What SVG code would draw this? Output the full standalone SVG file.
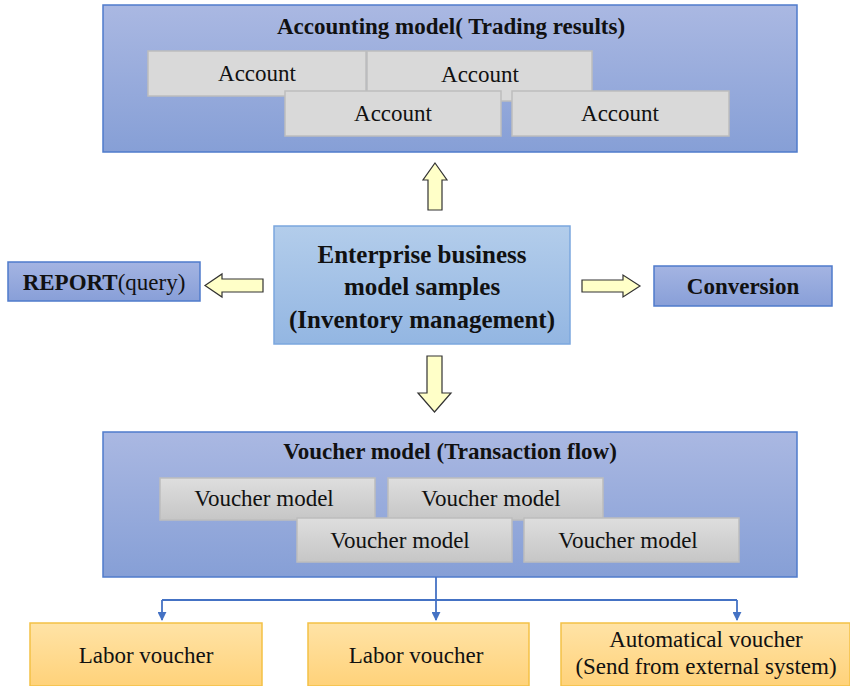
<svg xmlns="http://www.w3.org/2000/svg" width="850" height="686" viewBox="0 0 850 686">
<defs>
<linearGradient id="gOuter" x1="0" y1="0" x2="0" y2="1"><stop offset="0" stop-color="#AAB8E2"/><stop offset="1" stop-color="#869FD6"/></linearGradient>
<linearGradient id="gCenter" x1="0" y1="0" x2="0" y2="1"><stop offset="0" stop-color="#B3CDEB"/><stop offset="1" stop-color="#93B6E2"/></linearGradient>
<linearGradient id="gSide" x1="0" y1="0" x2="0" y2="1"><stop offset="0" stop-color="#A4B4E2"/><stop offset="1" stop-color="#889FD8"/></linearGradient>
<linearGradient id="gGray" x1="0" y1="0" x2="0" y2="1"><stop offset="0" stop-color="#DEDEDE"/><stop offset="1" stop-color="#C6C6C6"/></linearGradient>
<linearGradient id="gOrange" x1="0" y1="0" x2="0" y2="1"><stop offset="0" stop-color="#FFE3A6"/><stop offset="1" stop-color="#FFD27A"/></linearGradient>
<marker id="ah" viewBox="0 0 10 10" refX="9" refY="5" markerWidth="5" markerHeight="5" orient="auto"><path d="M0,0 L10,5 L0,10 z" fill="#4472C4"/></marker>
</defs>
<style>
.outer{fill:url(#gOuter);stroke:#4F7BCB;stroke-width:1.5}
.center{fill:url(#gCenter);stroke:#7BA7DE;stroke-width:1.5}
.side{fill:url(#gSide);stroke:#4F7BCB;stroke-width:1.5}
.acc{fill:#D9D9D9;stroke:#BDBDBD;stroke-width:1.5}
.vm{fill:url(#gGray);stroke:#BDBDBD;stroke-width:1.5}
.bot{fill:url(#gOrange);stroke:#F4C145;stroke-width:1.5}
.barrow{fill:#FFFFC8;stroke:#333;stroke-width:1.2}
.conn{fill:none;stroke:#4472C4;stroke-width:1.8}
text{font-family:"Liberation Serif","Times New Roman",serif;fill:#111;text-anchor:middle}
.t{font-size:23px}
.b{font-weight:bold;font-size:23px}
.c{font-weight:bold;font-size:25px}
</style>
<g id="accounting">
<rect class="outer" x="103" y="5" width="694" height="147"/>
<text class="b" x="451" y="34">Accounting model( Trading results)</text>
<g id="acc1"><rect class="acc" x="148" y="51" width="218" height="45"/><text class="t" x="257" y="81">Account</text></g>
<g id="acc2"><rect class="acc" x="367" y="51" width="225" height="50"/><text class="t" x="480" y="82">Account</text></g>
<g id="acc3"><rect class="acc" x="285" y="91" width="216" height="45"/><text class="t" x="393" y="121">Account</text></g>
<g id="acc4"><rect class="acc" x="512" y="91" width="217" height="45"/><text class="t" x="620" y="121">Account</text></g>
</g>
<g id="center">
<rect class="center" x="274" y="226" width="296" height="118"/>
<text class="c" x="422" y="263">Enterprise business</text>
<text class="c" x="422" y="295">model samples</text>
<text class="c" x="422" y="328">(Inventory management)</text>
</g>
<g id="report">
<rect class="side" x="8" y="262" width="192" height="39"/>
<text x="104" y="290" class="t"><tspan font-weight="bold">REPORT</tspan>(query)</text>
</g>
<g id="conversion">
<rect class="side" x="654" y="266" width="178" height="40"/>
<text class="b" x="743" y="294">Conversion</text>
</g>
<g id="block-arrows">
<path class="barrow" d="M435,163 L447,180 L442,180 L442,210 L428,210 L428,180 L423,180 Z"/>
<path class="barrow" d="M205,285.5 L222,274 L222,279 L263,279 L263,292 L222,292 L222,297 Z"/>
<path class="barrow" d="M640,286 L623,275 L623,280 L582,280 L582,292 L623,292 L623,297 Z"/>
<path class="barrow" d="M434.5,412 L451,393 L442,393 L442,356 L427,356 L427,393 L418,393 Z"/>
</g>
<g id="voucher">
<rect class="outer" x="103" y="432" width="694" height="145"/>
<text class="b" x="450" y="459">Voucher model (Transaction flow)</text>
<g id="vm1"><rect class="vm" x="160" y="478" width="215" height="42"/><text class="t" x="264" y="506">Voucher model</text></g>
<g id="vm2"><rect class="vm" x="388" y="478" width="215" height="42"/><text class="t" x="491" y="506">Voucher model</text></g>
<g id="vm3"><rect class="vm" x="297" y="518" width="215" height="44"/><text class="t" x="400" y="548">Voucher model</text></g>
<g id="vm4"><rect class="vm" x="524" y="518" width="215" height="44"/><text class="t" x="628" y="548">Voucher model</text></g>
</g>
<g id="connectors">
<path class="conn" d="M436,577 L436,620" marker-end="url(#ah)"/>
<path class="conn" d="M162,600 L737,600"/>
<path class="conn" d="M162,600 L162,620" marker-end="url(#ah)"/>
<path class="conn" d="M737,600 L737,620" marker-end="url(#ah)"/>
</g>
<g id="labor1"><rect class="bot" x="30" y="623" width="232" height="63"/><text class="t" x="146" y="663">Labor voucher</text></g>
<g id="labor2"><rect class="bot" x="308" y="623" width="221" height="63"/><text class="t" x="416" y="663">Labor voucher</text></g>
<g id="auto"><rect class="bot" x="561" y="623" width="289" height="63"/>
<text class="t" x="706" y="647">Automatical voucher</text>
<text class="t" x="706" y="674">(Send from external system)</text></g>
</svg>
